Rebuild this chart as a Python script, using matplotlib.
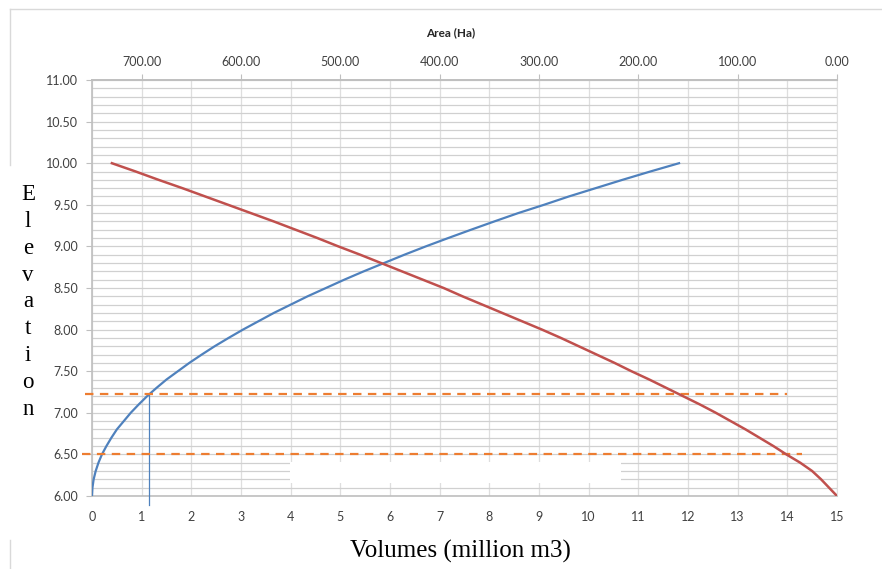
import matplotlib.pyplot as plt
from matplotlib.lines import Line2D
from matplotlib.patches import Rectangle

# elevation (m) with storage volume (million m3) and flooded area (Ha)
elevation = [6.0, 6.1, 6.2, 6.3, 6.4, 6.5, 6.6, 6.7, 6.8, 6.9,
             7.0, 7.1, 7.2, 7.3, 7.4, 7.5, 7.6, 7.7, 7.8, 7.9,
             8.0, 8.1, 8.2, 8.3, 8.4, 8.5, 8.6, 8.7, 8.8, 8.9,
             9.0, 9.1, 9.2, 9.3, 9.4, 9.5, 9.6, 9.7, 9.8, 9.9, 10.0]
volume = [0.0, 0.009, 0.033, 0.074, 0.13, 0.20, 0.29, 0.39, 0.50, 0.64,
          0.78, 0.94, 1.11, 1.30, 1.50, 1.73, 1.96, 2.21, 2.47, 2.75,
          3.04, 3.35, 3.66, 4.00, 4.34, 4.71, 5.08, 5.47, 5.88, 6.29,
          6.72, 7.17, 7.63, 8.10, 8.58, 9.10, 9.60, 10.14, 10.68, 11.24, 11.82]
area = [0, 8, 16, 25, 37, 51, 64, 78, 92, 107,
        122, 138, 155, 172, 189, 207, 224, 242, 260, 278,
        297, 317, 337, 357, 377, 396, 417, 438, 459, 480,
        502, 523, 545, 567, 590, 613, 636, 659, 683, 706, 730]

# design levels
levels = [7.22, 6.50]
level_start = [-0.15, -0.2]
level_end = [14.0, 14.3]
vol_at_level = 1.15

vol_ticks = list(range(0, 16))
area_ticks = [0, 100, 200, 300, 400, 500, 600, 700]
elev_ticks = [6.0, 6.5, 7.0, 7.5, 8.0, 8.5, 9.0, 9.5, 10.0, 10.5, 11.0]
elev_minor = [round(6.0 + 0.1 * i, 1) for i in range(51)]

tick_font = 'Lato'
lab_col = '#404040'
grid_col = '#D0D0D0'

fig = plt.figure(figsize=(8.82, 5.69), dpi=100)
ax = fig.add_axes([92 / 882, 73 / 569, 745 / 882, 416 / 569])

ax.set_xlim(0, 15)
ax.set_ylim(6, 11)
ax.set_xticks(vol_ticks)
ax.set_yticks(elev_ticks)
ax.set_yticks(elev_minor, minor=True)
ax.set_yticklabels(['%.2f' % t for t in elev_ticks])
ax.tick_params(axis='x', length=0, pad=10.5, labelsize=9, labelcolor=lab_col)
ax.tick_params(axis='y', which='major', length=4, pad=6, labelsize=9,
               labelcolor=lab_col, color='#BFBFBF', direction='out')
ax.tick_params(axis='y', which='minor', length=0)
for lab in ax.get_xticklabels() + ax.get_yticklabels():
    lab.set_fontfamily(tick_font)

ax.set_axisbelow(True)
ax.grid(axis='x', color='#DEDEDE', lw=0.9)
ax.grid(axis='y', which='both', color=grid_col, lw=0.9)
for s in ['left', 'top', 'bottom']:
    ax.spines[s].set_color('#BFBFBF')
    ax.spines[s].set_linewidth(1.2)
ax.spines['right'].set_color('#E0E0E0')

# blank patch over part of the grid (empty legend box in the original)
ax.add_patch(Rectangle((3.99, 6.155), 6.66, 0.255, facecolor='white',
                       edgecolor='none', zorder=1))

ax.plot(volume, elevation, color='#4F81BD', lw=1.6, zorder=3)

for lv, x0, x1 in zip(levels, level_start, level_end):
    ax.plot([x0, x1], [lv, lv], color='#ED7D31', lw=1.6,
            dashes=(3.8, 2.9), clip_on=False, zorder=4)
ax.plot([vol_at_level, vol_at_level], [5.89, levels[0]], color='#4F81BD',
        lw=0.9, clip_on=False, zorder=3)

ax2 = ax.twiny()
ax2.set_xlim(750, 0)
ax2.set_xticks(area_ticks)
ax2.set_xticklabels(['%.2f' % t for t in area_ticks])
ax2.tick_params(axis='x', length=4, pad=5, labelsize=9, labelcolor=lab_col,
                color='#BFBFBF')
for lab in ax2.get_xticklabels():
    lab.set_fontfamily(tick_font)
for s in ['left', 'right', 'bottom']:
    ax2.spines[s].set_visible(False)
ax2.spines['top'].set_color('#BFBFBF')
ax2.spines['top'].set_linewidth(1.2)
ax2.plot(area, elevation, color='#C0504D', lw=1.8, zorder=3)

fig.text(451 / 882, 1 - 33 / 569, 'Area (Ha)', ha='center', va='center',
         fontsize=8.5, fontweight='bold', family=tick_font, color='#262626')

fig.text(28 / 882, 1 - 302 / 569, 'E\nl\ne\nv\na\nt\ni\no\nn', ha='center',
         va='center', fontsize=16.5, family='Liberation Serif',
         linespacing=1.37, color='black')
fig.text(460 / 882, 1 - 551 / 569, 'Volumes (million m3)', ha='center',
         va='center', fontsize=18, family='Liberation Serif', color='black')

# chart frame remnants
frame = dict(color='#D9D9D9', lw=1.0, transform=fig.transFigure)
fig.add_artist(Line2D([10 / 882, 1], [1 - 9 / 569, 1 - 9 / 569], **frame))
fig.add_artist(Line2D([10 / 882, 10 / 882], [1 - 9 / 569, 1 - 165 / 569], **frame))
fig.add_artist(Line2D([10 / 882, 10 / 882], [1 - 540 / 569, 0], **frame))

fig.savefig('out.png', dpi=100)
